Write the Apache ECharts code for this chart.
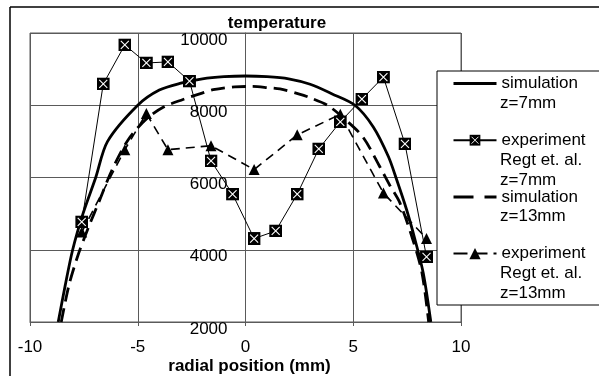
<!DOCTYPE html>
<html><head><meta charset="utf-8">
<script src="https://cdn.jsdelivr.net/npm/echarts@6/dist/echarts.min.js"></script>
<style>html,body{margin:0;padding:0;background:#fff}#c{width:599px;height:376px}</style>
</head><body><div id="c"></div>
<script>
// ---- data ----
const xTicks = [-10, -5, 0, 5, 10];
const yTicks = [2000, 4000, 6000, 8000, 10000];

const sim7X = [-8.69, -8.37, -8.02, -7.54, -6.95, -6.4, -5.0, -4.0, -3.0, -2.0, -1.0, 0, 1, 2, 3, 4, 5.08, 5.93, 6.63, 7.02, 7.48, 7.87, 8.25, 8.6];
const sim7Y = [2000, 3000, 4000, 5000, 6000, 7000, 8000, 8420, 8610, 8730, 8790, 8810, 8790, 8730, 8580, 8320, 8000, 7400, 6580, 5930, 5100, 4270, 3350, 2000];

const exp7X = [-7.6, -6.6, -5.6, -4.6, -3.6, -2.6, -1.6, -0.6, 0.4, 1.4, 2.4, 3.4, 4.4, 5.4, 6.4, 7.4, 8.4];
const exp7Y = [4770, 8590, 9670, 9170, 9200, 8670, 6460, 5540, 4310, 4520, 5540, 6790, 7540, 8170, 8780, 6930, 3800];

const sim13X = [-8.55, -8.2, -7.8, -7.3, -6.75, -6.2, -5.45, -4.6, -3.8, -2.9, -2.2, -1.5, -0.5, 0.3, 1.0, 1.6, 2.5, 2.9, 3.8, 4.6, 5.45, 6.24, 6.7, 7.17, 7.77, 8.19, 8.5];
const sim13Y = [2000, 3000, 3800, 4600, 5400, 6200, 7040, 7620, 7950, 8160, 8300, 8430, 8510, 8520, 8490, 8450, 8310, 8230, 8000, 7620, 7120, 6290, 5780, 5290, 4270, 3360, 2000];

const exp13X = [-7.6, -5.6, -4.6, -3.6, -1.6, 0.4, 2.4, 4.4, 6.4, 8.4];
const exp13Y = [4490, 6770, 7770, 6770, 6880, 6220, 7180, 7750, 5570, 4310];

const seriesNames = ['simulation\nz=7mm', 'experiment\nRegt et. al.\nz=7mm', 'simulation\nz=13mm', 'experiment\nRegt et. al.\nz=13mm'];
const titleText = 'temperature';
const xName = 'radial position (mm)';

// ---- chart ----
const FONT = 'Liberation Sans, Arial, sans-serif';
const zip = (xs, ys) => xs.map((x, i) => [x, ys[i]]);
const sqSvg = "<svg xmlns='http://www.w3.org/2000/svg' width='26' height='26'><rect width='26' height='26' fill='black'/><path d='M5,5L21,21M21,5L5,21' stroke='white' stroke-width='2.2'/></svg>";
const sqSymbol = 'image://data:image/svg+xml;charset=utf-8,' + encodeURIComponent(sqSvg);

const chart = echarts.init(document.getElementById('c'), null, {renderer: 'canvas'});
const gridColor = '#5a5a5a';
const gridLeft = 30, gridWidth = 431;

const extraLines = [];
const firstLineY = [83.3, 140, 196.7, 253.3];
seriesNames.forEach((n, i) => {
  n.split('\n').slice(1).forEach((t, k) => {
    extraLines.push({type: 'text', z: 10, x: 500, y: firstLineY[i] + 20 * (k + 1),
      style: {text: t, fill: '#000', font: '17px ' + FONT, verticalAlign: 'middle', align: 'left'}});
  });
});

// y axis crosses at x = 0
const yAxisOffset = -gridWidth * (0 - xTicks[0]) / (xTicks[xTicks.length - 1] - xTicks[0]);

chart.setOption({
  animation: false,
  backgroundColor: '#fff',
  grid: {left: gridLeft, top: 33, width: gridWidth, height: 289, show: true, borderColor: gridColor, borderWidth: 1,
    containLabel: false, outerBoundsMode: 'none'},
  xAxis: {
    type: 'value', min: xTicks[0], max: xTicks[xTicks.length - 1], interval: 5,
    axisLine: {onZero: false, lineStyle: {color: gridColor, width: 1}},
    axisTick: {show: true, length: 4, lineStyle: {color: gridColor}},
    splitLine: {show: true, lineStyle: {color: gridColor, width: 1}},
    axisLabel: {color: '#000', fontSize: 17, fontFamily: FONT, margin: 17},
    name: xName, nameLocation: 'middle', nameGap: 36, nameMoveOverlap: false,
    nameTextStyle: {color: '#000', fontSize: 17, fontWeight: 'bold', fontFamily: FONT, padding: [0, 0, 0, 8]}
  },
  yAxis: {
    type: 'value', min: yTicks[0], max: yTicks[yTicks.length - 1], interval: 2000,
    position: 'left', offset: yAxisOffset,
    axisLine: {show: true, onZero: false, lineStyle: {color: gridColor, width: 1}},
    axisTick: {show: false},
    splitLine: {show: true, lineStyle: {color: gridColor, width: 1}},
    axisLabel: {color: '#000', fontSize: 17, fontFamily: FONT, margin: 18, verticalAlign: 'top', lineHeight: 14,
      verticalAlignMinLabel: 'top', verticalAlignMaxLabel: 'top', hideOverlap: false,
      formatter: v => String(v)}
  },
  legend: {
    orient: 'vertical', left: 452, top: 75, itemWidth: 43, itemHeight: 14, itemGap: 39.7,
    padding: 0, selectedMode: false,
    textStyle: {color: '#000', fontSize: 17, fontFamily: FONT, lineHeight: 17},
    formatter: n => n.split('\n')[0],
    data: [
      {name: seriesNames[0], itemStyle: {opacity: 0}, lineStyle: {width: 3}},
      {name: seriesNames[1]},
      {name: seriesNames[2], itemStyle: {opacity: 0}, lineStyle: {width: 3, type: [20, 11]}},
      {name: seriesNames[3], lineStyle: {type: [14, 6]}}
    ]
  },
  graphic: [
    {type: 'line', z: 10, shape: {x1: 10, y1: 7, x2: 10, y2: 380}, style: {stroke: '#000', lineWidth: 1.5}},
    {type: 'line', z: 10, shape: {x1: 10, y1: 7, x2: 610, y2: 7}, style: {stroke: '#000', lineWidth: 1.5}},
    {type: 'rect', z: 3, shape: {x: 437, y: 71, width: 200, height: 234}, style: {fill: '#fff', stroke: '#000', lineWidth: 1}},
    {type: 'text', z: 10, x: 277, y: 23, style: {text: titleText, fill: '#000', font: 'bold 17px ' + FONT, align: 'center', verticalAlign: 'middle'}},
    ...extraLines
  ],
  series: [
    {name: seriesNames[0], type: 'line', data: zip(sim7X, sim7Y), smooth: 0.3, symbol: 'none', showSymbol: false,
     lineStyle: {color: '#000', width: 2.8}, itemStyle: {color: '#000'}, z: 2},
    {name: seriesNames[1], type: 'line', data: zip(exp7X, exp7Y), symbol: sqSymbol, symbolSize: 13,
     lineStyle: {color: '#000', width: 1}, itemStyle: {color: '#000'}, z: 5},
    {name: seriesNames[2], type: 'line', data: zip(sim13X, sim13Y), smooth: 0.3, symbol: 'none', showSymbol: false,
     lineStyle: {color: '#000', width: 2.8, type: [14, 7]}, itemStyle: {color: '#000'}, z: 2},
    {name: seriesNames[3], type: 'line', data: zip(exp13X, exp13Y), symbol: 'triangle', symbolSize: 11,
     lineStyle: {color: '#000', width: 1.6, type: [9, 6]}, itemStyle: {color: '#000'}, z: 4}
  ]
});
</script></body></html>
